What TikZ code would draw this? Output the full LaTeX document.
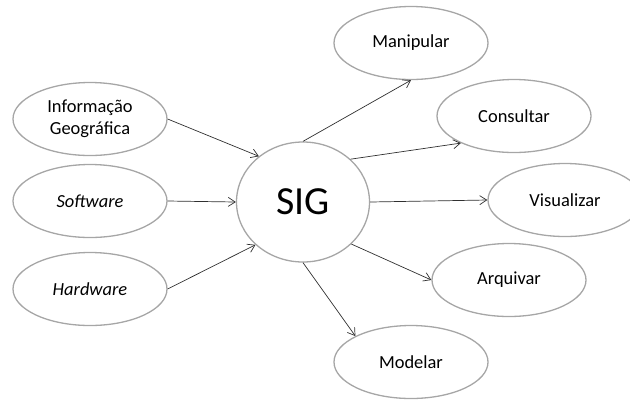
\documentclass[tikz,border=0pt]{standalone}
\usepackage{fontspec}
\setmainfont{Carlito}
\usetikzlibrary{shapes.geometric,arrows.meta}
\definecolor{rim}{HTML}{A6A6A6}
\definecolor{wire}{HTML}{303030}
\tikzset{
  oval/.style={ellipse,draw=rim,line width=1.3bp,minimum width=154bp,minimum height=73bp,inner sep=0pt,font=\fontsize{18.5}{22}\selectfont,align=center},
  hub/.style={ellipse,draw=rim,line width=1.3bp,minimum width=133bp,minimum height=120bp,inner sep=0pt,font=\fontsize{40}{44}\selectfont},
  link/.style={draw=wire,line width=0.7bp,-{Straight Barb[length=7bp,width=9bp,line width=0.7bp]}}
}
\begin{document}
\begin{tikzpicture}[x=1bp,y=-1bp]
\useasboundingbox (0,0) rectangle (630,401);
\node[hub] (sig) at (303,202) {SIG};
\node[oval] (info) at (90,119) {Informação\\Geográfica};
\node[oval] (soft) at (90,201) {\itshape Software};
\node[oval] (hard) at (90,289) {\itshape Hardware};
\node[oval] (man) at (411,43) {Manipular};
\node[oval] (con) at (514,116) {Consultar};
\node[oval] (vis) at (565,200) {Visualizar};
\node[oval] (arq) at (509,280) {Arquivar};
\node[oval] (mod) at (411,362) {Modelar};
\draw[link] (info.east) -- (sig.134);
\draw[link] (soft.east) -- (sig.west);
\draw[link] (hard.east) -- (sig.222);
\draw[link] (sig.north) -- (man.south);
\draw[link] (sig.42) -- (con.207);
\draw[link] (sig.east) -- (vis.west);
\draw[link] (sig.319) -- (arq.west);
\draw[link] (sig.south) -- (mod.155);
\end{tikzpicture}
\end{document}
